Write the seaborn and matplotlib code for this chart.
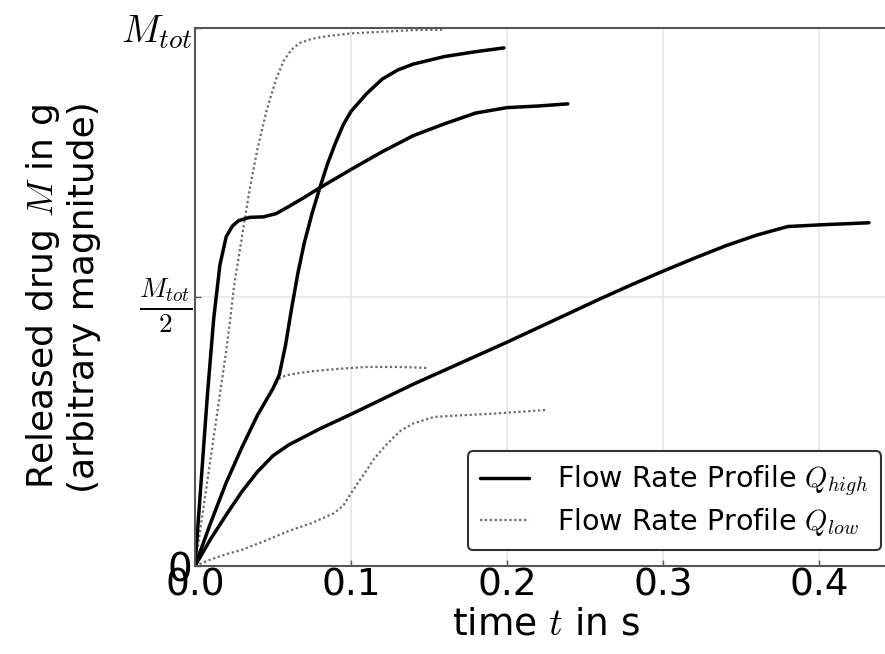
import matplotlib
matplotlib.use("Agg")
import matplotlib.pyplot as plt
import seaborn as sns
import pandas as pd

# ---- data ----
t_high_a = [0, 0.004, 0.008, 0.012, 0.016, 0.020, 0.024, 0.028, 0.035, 0.044, 0.052, 0.06, 0.07,
            0.08, 0.09, 0.10, 0.12, 0.14, 0.16, 0.18, 0.20, 0.22, 0.239]
m_high_a = [0, 0.16, 0.32, 0.46, 0.56, 0.612, 0.632, 0.642, 0.648, 0.649, 0.655, 0.668, 0.685,
            0.703, 0.72, 0.737, 0.77, 0.80, 0.822, 0.842, 0.852, 0.855, 0.859]

t_high_b = [0, 0.01, 0.02, 0.03, 0.04, 0.05, 0.054, 0.058, 0.062, 0.066, 0.07, 0.075, 0.08, 0.085,
            0.09, 0.095, 0.10, 0.11, 0.12, 0.13, 0.14, 0.16, 0.18, 0.198]
m_high_b = [0, 0.08, 0.155, 0.22, 0.28, 0.33, 0.355, 0.41, 0.48, 0.545, 0.60, 0.655, 0.703, 0.748,
            0.786, 0.82, 0.845, 0.878, 0.905, 0.922, 0.933, 0.947, 0.956, 0.963]

t_high_c = [0, 0.01, 0.02, 0.03, 0.04, 0.05, 0.06, 0.08, 0.10, 0.12, 0.14, 0.16, 0.18, 0.20, 0.22,
            0.24, 0.26, 0.28, 0.30, 0.32, 0.34, 0.36, 0.38, 0.40, 0.432]
m_high_c = [0, 0.05, 0.095, 0.138, 0.175, 0.205, 0.225, 0.255, 0.282, 0.31, 0.338, 0.364, 0.39,
            0.416, 0.443, 0.47, 0.497, 0.523, 0.548, 0.572, 0.595, 0.615, 0.631, 0.634, 0.638]

t_low_a = [0, 0.005, 0.01, 0.015, 0.02, 0.0225, 0.025, 0.03, 0.035, 0.04, 0.046, 0.052, 0.057,
           0.062, 0.067, 0.075, 0.085, 0.10, 0.12, 0.14, 0.16]
m_low_a = [0, 0.10, 0.20, 0.30, 0.40, 0.457, 0.52, 0.61, 0.70, 0.775, 0.848, 0.905, 0.94,
           0.96, 0.972, 0.98, 0.985, 0.99, 0.993, 0.996, 0.997]

t_low_b = [0, 0.01, 0.02, 0.03, 0.04, 0.05, 0.054, 0.058, 0.065, 0.075, 0.09, 0.11, 0.13, 0.15]
m_low_b = [0, 0.08, 0.155, 0.22, 0.28, 0.33, 0.348, 0.354, 0.358, 0.362, 0.366, 0.37, 0.37, 0.368]

t_low_c = [0, 0.01, 0.02, 0.03, 0.046, 0.06, 0.075, 0.089, 0.095, 0.10, 0.105, 0.11, 0.115, 0.121,
           0.127, 0.132, 0.14, 0.153, 0.17, 0.19, 0.21, 0.225]
m_low_c = [0, 0.012, 0.022, 0.03, 0.048, 0.065, 0.08, 0.098, 0.112, 0.135, 0.157, 0.178, 0.2, 0.22,
           0.238, 0.252, 0.265, 0.277, 0.28, 0.283, 0.287, 0.29]

x_ticks = [0.0, 0.1, 0.2, 0.3, 0.4]
x_tick_labels = ["0.0", "0.1", "0.2", "0.3", "0.4"]
y_ticks = [0.0, 0.5, 1.0]
y_tick_labels = ["0", r"$\frac{M_{tot}}{2}$", r"$M_{tot}$"]
legend_labels = [r"Flow Rate Profile $Q_{high}$", r"Flow Rate Profile $Q_{low}$"]

# ---- style ----
sns.set_style("ticks")
plt.rcParams["font.family"] = ["DejaVu Sans"]
plt.rcParams["mathtext.fontset"] = "cm"
plt.rcParams["text.color"] = "black"
plt.rcParams["axes.labelcolor"] = "black"

fig = plt.figure(figsize=(8.85, 6.54), dpi=100)
ax = fig.add_axes([195 / 885, 88 / 654, (897 - 195) / 885, (566 - 28) / 654])

high = [(t_high_a, m_high_a), (t_high_b, m_high_b), (t_high_c, m_high_c)]
low = [(t_low_a, m_low_a), (t_low_b, m_low_b), (t_low_c, m_low_c)]

solid_kw = dict(color="black", linewidth=2.5)
dot_kw = dict(color="#6a6a6a", linewidth=1.6, linestyle=(0, (1, 1.2)))

for t, m in low:
    df = pd.DataFrame({"t": t, "m": m})
    sns.lineplot(data=df, x="t", y="m", ax=ax, estimator=None, sort=False, legend=False, **dot_kw)
for t, m in high:
    df = pd.DataFrame({"t": t, "m": m})
    sns.lineplot(data=df, x="t", y="m", ax=ax, estimator=None, sort=False, legend=False, **solid_kw)

h_low = ax.lines[0]
h_high = ax.lines[3]

ax.set_xlim(0, 0.45)
ax.set_ylim(0, 1.0)
ax.set_xticks(x_ticks)
ax.set_xticklabels(x_tick_labels)
ax.set_yticks(y_ticks)
ax.set_yticklabels(y_tick_labels)

ax.grid(True, color="#e6e6e6", linewidth=1.2)
ax.set_axisbelow(True)

for s in ax.spines.values():
    s.set_color("#555555")
    s.set_linewidth(1.5)

ax.tick_params(axis="both", direction="in", length=4, width=1, colors="#555555",
               labelcolor="black", labelsize=27, pad=1)
ax.tick_params(axis="y", labelsize=28, pad=2)

ax.set_xlabel(r"time $t$ in s", fontsize=27, labelpad=2)
ax.set_ylabel("Released drug $M$ in g\n(arbitrary magnitude)", fontsize=26, labelpad=14,
              linespacing=1.2)

leg = ax.legend([h_high, h_low], legend_labels, loc="lower right", fontsize=20.5,
                frameon=True, fancybox=True, framealpha=1.0, edgecolor="#333333",
                handlelength=1.7, handletextpad=1.0, labelspacing=0.25,
                borderaxespad=0.55, borderpad=0.45)
leg.get_frame().set_linewidth(1.5)

fig.savefig("out.png", dpi=100)
